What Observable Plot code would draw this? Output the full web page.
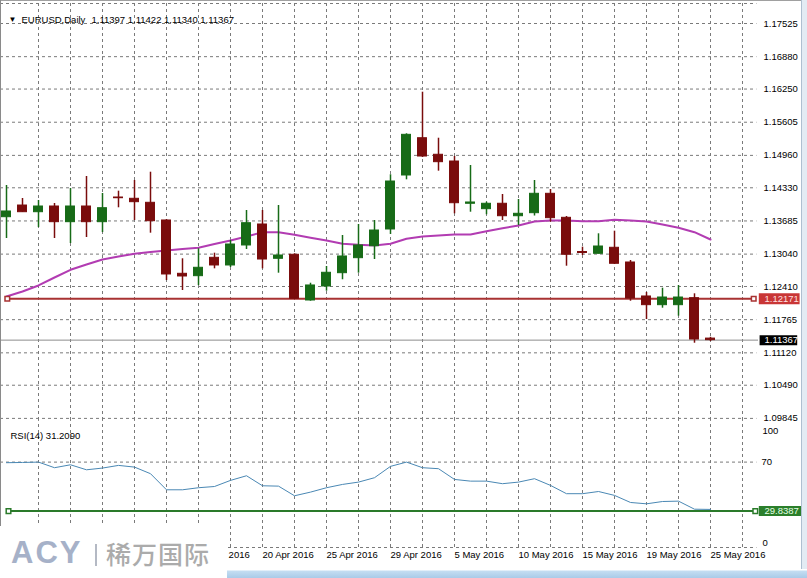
<!DOCTYPE html>
<html><head><meta charset="utf-8">
<script src="https://cdn.jsdelivr.net/npm/d3@7"></script>
<script src="https://cdn.jsdelivr.net/npm/@observablehq/plot@0.6"></script>
<style>
html,body{margin:0;padding:0;background:#fff;}
#wrap{position:relative;width:807px;height:578px;overflow:hidden;background:#fff;font-family:"Liberation Sans",Arial,sans-serif;}
#wrap svg{position:absolute;left:0;}
.ov{position:absolute;}
</style></head><body><div id="wrap"></div>
<script>
// ---- data ----
const symbolTitle = "EURUSD,Daily";
const open  = [1.13758,1.13985,1.13855,1.13966,1.13661,1.13966,1.13661,1.14141,1.14116,1.14038,1.13694,1.12657,1.12611,1.12968,1.12819,1.13208,1.13616,1.12949,1.13027,1.12138,1.12410,1.12669,1.12961,1.13194,1.13519,1.14569,1.15294,1.14972,1.14841,1.14019,1.13914,1.14019,1.13777,1.13836,1.14213,1.13746,1.13081,1.13046,1.13163,1.12877,1.12216,1.12047,1.12047,1.12183,1.11397];
const high  = [1.14374,1.14122,1.14083,1.14024,1.14316,1.14550,1.14219,1.14264,1.14472,1.14633,1.13710,1.12949,1.13143,1.13058,1.13305,1.13888,1.13888,1.13985,1.13046,1.12474,1.12799,1.13402,1.13616,1.13694,1.14583,1.15380,1.16189,1.15294,1.14938,1.14763,1.14050,1.14199,1.14102,1.14472,1.14297,1.13772,1.13175,1.13435,1.13486,1.12916,1.12294,1.12377,1.12430,1.12268,1.11422];
const low   = [1.13344,1.13849,1.13558,1.13344,1.13246,1.13363,1.13460,1.13941,1.13694,1.13447,1.12527,1.12332,1.12430,1.12754,1.12780,1.13130,1.12754,1.12669,1.12160,1.12124,1.12319,1.12541,1.12669,1.12935,1.13422,1.14485,1.14920,1.14653,1.13824,1.13855,1.13805,1.13694,1.13597,1.13781,1.13661,1.12805,1.13013,1.13046,1.12838,1.12124,1.11768,1.11988,1.11833,1.11307,1.11340];
const close = [1.13869,1.13855,1.13966,1.13661,1.13966,1.13661,1.13933,1.14127,1.14050,1.13680,1.12644,1.12605,1.12774,1.12819,1.13227,1.13641,1.12935,1.13013,1.12171,1.12430,1.12677,1.12994,1.13208,1.13499,1.14452,1.15360,1.14938,1.14828,1.14030,1.14044,1.14019,1.13777,1.13824,1.14213,1.13739,1.13027,1.13062,1.13188,1.12852,1.12177,1.12047,1.12196,1.12196,1.11379,1.11367];
const ma    = [1.12216,1.12313,1.12430,1.12585,1.12735,1.12838,1.12935,1.12994,1.13046,1.13081,1.13110,1.13140,1.13163,1.13237,1.13305,1.13383,1.13466,1.13466,1.13416,1.13358,1.13305,1.13241,1.13221,1.13208,1.13241,1.13338,1.13383,1.13402,1.13422,1.13422,1.13486,1.13544,1.13597,1.13674,1.13694,1.13694,1.13680,1.13680,1.13707,1.13694,1.13674,1.13616,1.13552,1.13466,1.13324];
const rsi   = [69.5,69.7,70.0,65.4,67.8,63.7,65.1,67.3,65.9,60.5,47.3,47.3,49.0,50.0,55.0,58.8,50.6,50.3,42.4,45.4,49.0,51.7,53.6,57.2,66.5,70.0,65.4,64.6,55.8,54.4,54.4,52.3,53.6,56.4,50.9,44.1,44.1,45.9,42.7,36.9,35.8,37.7,38.0,31.4,31.209];
const priceTicks = [1.17525,1.16880,1.16250,1.15605,1.14960,1.14330,1.13685,1.13040,1.12410,1.11765,1.11120,1.10490,1.09845];
const dateTickIndex = [12,16,20,24,28,32,36,40,44];
const dateTickLabels = ["15 Apr 2016","20 Apr 2016","25 Apr 2016","29 Apr 2016","5 May 2016","10 May 2016","15 May 2016","19 May 2016","25 May 2016"];
const priceLevel = 1.12171;
const rsiLevel = 29.8387;
const rsiTickLabels = [100, 70, 0];
const rsiPeriod = 14;

// ---- styles ----
const GREEN = "#176b17", RED = "#7a0c0c", GRID = "#7a7a7a", MA_C = "#b23cb2";
const FONT = "'Liberation Sans', Arial, sans-serif";
const xDomain = [-0.375, 46.375];
const gridX = d3.range(2, 47, 2);
const gridX2 = 46.9, boxX1 = 47.05, boxX2 = 49.6;
const half = 0.28;

const candles = open.map((o, i) => ({i, open: o, high: high[i], low: low[i], close: close[i], ma: ma[i], rsi: rsi[i]}));
const up = candles.filter(d => d.close >= d.open);
const down = candles.filter(d => d.close < d.open);
const last = candles[candles.length - 1];
const dates = dateTickIndex.map((k, j) => ({k, label: dateTickLabels[j]}));

const wrap = document.getElementById("wrap");

const p1 = Plot.plot({
  width: 807, height: 420, marginTop: 3, marginBottom: 0, marginLeft: 0, marginRight: 59,
  x: {domain: xDomain, axis: null},
  y: {domain: [1.09804, 1.17914], axis: null},
  style: {fontFamily: FONT, fontSize: "9.5px", background: "transparent", overflow: "visible", color: "#000"},
  marks: [
    Plot.ruleY([1.17914], {x1: xDomain[0], x2: gridX2, stroke: GRID, strokeDasharray: "3,3"}),
    Plot.ruleX(gridX, {stroke: GRID, strokeDasharray: "3,3"}),
    Plot.ruleY(priceTicks, {x1: xDomain[0], x2: gridX2, stroke: GRID, strokeDasharray: "3,3"}),
    Plot.axisY(priceTicks, {anchor: "right", tickSize: 0, tickPadding: 15, tickFormat: d => d.toFixed(5), fill: "#000", fontSize: 9.5}),
    Plot.ruleY([last.close], {x1: xDomain[0], x2: gridX2 + 0.1, stroke: "#8c8c8c", strokeWidth: 1}),
    Plot.ruleY([priceLevel], {x1: 0.05, x2: 46.7, stroke: "#a83232", strokeWidth: 2}),
    Plot.line(candles, {x: "i", y: "ma", stroke: MA_C, strokeWidth: 2}),
    Plot.ruleX(up, {x: "i", y1: "low", y2: "high", stroke: GREEN, strokeWidth: 1.5}),
    Plot.ruleX(down, {x: "i", y1: "low", y2: "high", stroke: RED, strokeWidth: 1.5}),
    Plot.rect(up, {x1: d => d.i - half, x2: d => d.i + half, y1: "open", y2: "close", fill: GREEN, stroke: GREEN, strokeWidth: 1}),
    Plot.rect(down, {x1: d => d.i - half, x2: d => d.i + half, y1: "open", y2: "close", fill: RED, stroke: RED, strokeWidth: 1}),
    Plot.dot([0.05, 46.7], {x: d => d, y: () => priceLevel, symbol: "square", r: 2.6, fill: "#fff", stroke: "#a83232", strokeWidth: 1.5}),
    Plot.ruleY([priceLevel], {x1: boxX1, x2: boxX2, stroke: "#c93636", strokeWidth: 11}),
    Plot.text([priceLevel], {y: d => d, text: d => d.toFixed(5), frameAnchor: "right", dx: 16, textAnchor: "start", fill: "#ffe0e0", fontSize: 9.5}),
    Plot.ruleY([last.close], {x1: boxX1 + 0.05, x2: boxX2 - 0.15, stroke: "#000", strokeWidth: 10}),
    Plot.text([last.close], {y: d => d, text: d => d.toFixed(5), frameAnchor: "right", dx: 16, textAnchor: "start", fill: "#fff", fontSize: 9.5}),
    Plot.text(["▼"], {frameAnchor: "top-left", dx: 12, dy: 13, textAnchor: "middle", fontSize: 8, fill: "#000"}),
    Plot.text([symbolTitle], {frameAnchor: "top-left", dx: 21, dy: 13, textAnchor: "start", fontSize: 9.5, fill: "#000"}),
    Plot.text([last], {frameAnchor: "top-left", dx: 91, dy: 13, textAnchor: "start", fontSize: 9.5, fill: "#000",
      text: d => [d.open, d.high, d.low, d.close].map(v => v.toFixed(5)).join(" ")})
  ]
});
p1.style.top = "0px";
wrap.appendChild(p1);

const p2 = Plot.plot({
  width: 807, height: 158, marginTop: 5, marginBottom: 31, marginLeft: 0, marginRight: 59,
  x: {domain: xDomain, axis: null},
  y: {domain: [0, 100], axis: null},
  style: {fontFamily: FONT, fontSize: "9.5px", background: "transparent", overflow: "visible", color: "#000"},
  marks: [
    Plot.ruleX(gridX, {y1: 0, y2: 104, stroke: GRID, strokeDasharray: "3,3"}),
    Plot.ruleY([70, 0], {x1: xDomain[0], x2: gridX2, stroke: GRID, strokeDasharray: "3,3"}),
    Plot.text([rsiTickLabels[1]], {y: d => d, text: d => String(d), frameAnchor: "right", dx: 13, textAnchor: "start", fill: "#000", fontSize: 9.5}),
    Plot.text([rsiTickLabels[0]], {y: d => d, text: d => String(d), frameAnchor: "right", dx: 14, dy: 5, textAnchor: "start", fill: "#000", fontSize: 9.5}),
    Plot.text([rsiTickLabels[2]], {y: d => d, text: d => String(d), frameAnchor: "right", dx: 14, dy: -5, textAnchor: "start", fill: "#000", fontSize: 9.5}),
    Plot.ruleY([rsiLevel], {x1: 0.125, x2: 46.8, stroke: "#2a7a2a", strokeWidth: 2}),
    Plot.line(candles, {x: "i", y: "rsi", stroke: "#4a88b4", strokeWidth: 1}),
    Plot.dot([0.125, 46.8], {x: d => d, y: () => rsiLevel, symbol: "square", r: 2.6, fill: "#fff", stroke: "#2a7a2a", strokeWidth: 1.5}),
    Plot.ruleY([rsiLevel], {x1: boxX1, x2: boxX2 + 0.1, stroke: "#2b7f2b", strokeWidth: 10}),
    Plot.text([rsiLevel], {y: d => d, text: d => d.toFixed(4), frameAnchor: "right", dx: 16, textAnchor: "start", fill: "#e6ffe6", fontSize: 9.5}),
    Plot.text([last], {frameAnchor: "top-left", dx: 10, dy: 7, textAnchor: "start", fill: "#000", fontSize: 9.5,
      text: d => `RSI(${rsiPeriod}) ${d.rsi.toFixed(4)}`}),
    Plot.text(dates, {x: "k", text: "label", frameAnchor: "bottom", dy: 10, textAnchor: "start", fill: "#000", fontSize: 9.5})
  ]
});
p2.style.top = "420px";
wrap.appendChild(p2);

// ---- window chrome & watermark ----
function ov(css, html) { const d = document.createElement("div"); d.className = "ov"; d.style.cssText = css; if (html) d.innerHTML = html; wrap.appendChild(d); return d; }
ov("left:0;top:0;width:807px;height:1px;background:#a0a0a0;");
ov("left:0;top:0;width:1px;height:578px;background:#8a8a8a;");
ov("left:801px;top:0;width:6px;height:578px;background:#e3ebf3;border-left:1px solid #aebfd0;box-sizing:border-box;");
ov("left:0;top:569px;width:807px;height:9px;background:linear-gradient(#ffffff 0,#ffffff 1px,#c4ddf2 2px,#a9cbe8 100%);");
ov("left:0;top:526px;width:227px;height:52px;background:#fff;");
ov("left:11px;top:533px;font:bold 31px 'Liberation Sans',Arial,sans-serif;letter-spacing:2px;color:#a6b1c8;line-height:40px;", "ACY");
ov("left:95px;top:544px;width:2px;height:22px;background:#b4b9c4;");
ov("left:106px;top:536px;font:500 25px 'Noto Sans CJK SC',sans-serif;color:#ababab;line-height:34px;letter-spacing:1px;", "稀万国际");
</script></body></html>
